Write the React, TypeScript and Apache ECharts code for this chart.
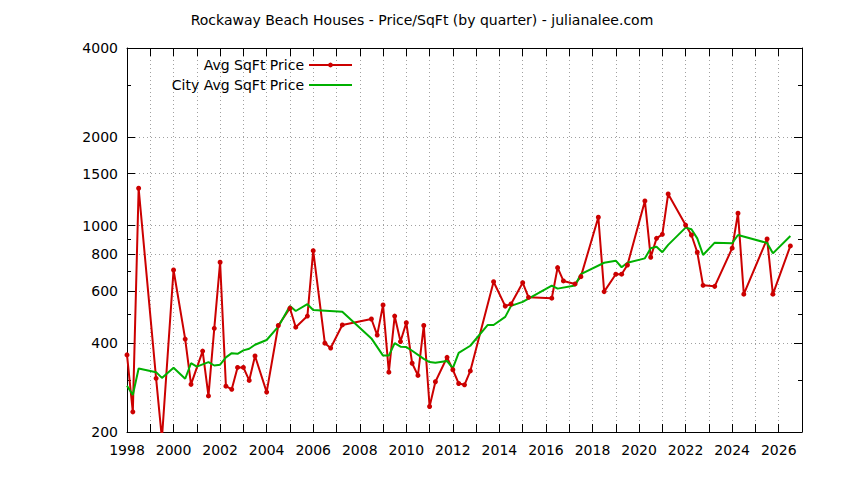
import React, { useEffect, useRef } from "react";
import * as echarts from "echarts";

const chartTitle = "Rockaway Beach Houses - Price/SqFt (by quarter) - julianalee.com";
const avgName = "Avg SqFt Price";
const cityName = "City Avg SqFt Price";

// quarter start dates (decimal years) and $/sqft values
const avgDates = [
  1998.0, 1998.25, 1998.5, 1999.25, 1999.5, 2000.0, 2000.5, 2000.75, 2001.25, 2001.5,
  2001.75, 2002.0, 2002.25, 2002.5, 2002.75, 2003.0, 2003.25, 2003.5, 2004.0, 2004.5,
  2005.0, 2005.25, 2005.75, 2006.0, 2006.5, 2006.75, 2007.25, 2008.5, 2008.75, 2009.0,
  2009.25, 2009.5, 2009.75, 2010.0, 2010.25, 2010.5, 2010.75, 2011.0, 2011.25, 2011.75,
  2012.0, 2012.25, 2012.5, 2012.75, 2013.75, 2014.25, 2014.5, 2015.0, 2015.25, 2016.25,
  2016.5, 2016.75, 2017.25, 2017.5, 2018.25, 2018.5, 2019.0, 2019.25, 2019.5, 2020.25,
  2020.5, 2020.75, 2021.0, 2021.25, 2022.0, 2022.25, 2022.5, 2022.75, 2023.25, 2024.0,
  2024.25, 2024.5, 2025.5, 2025.75, 2026.5,
];
const avgPrices = [
  365, 234, 1339, 304, 190, 708, 413, 290, 376, 265,
  449, 752, 286, 279, 331, 331, 299, 362, 273, 459,
  525, 453, 494, 823, 400, 385, 461, 483, 426, 539,
  319, 494, 405, 469, 342, 311, 459, 244, 296, 358,
  325, 292, 289, 322, 646, 534, 543, 641, 572, 568,
  721, 650, 635, 672, 1068, 598, 685, 685, 736, 1213,
  782, 906, 935, 1281, 1005, 930, 813, 628, 623, 839,
  1102, 586, 902, 586, 854,
];

const cityDates = [
  1998.0, 1998.25, 1998.5, 1999.25, 1999.5, 2000.0, 2000.5, 2000.75, 2001.0, 2001.5,
  2001.75, 2002.0, 2002.25, 2002.5, 2002.75, 2003.0, 2003.25, 2003.5, 2004.0, 2004.5,
  2005.0, 2005.25, 2005.75, 2006.0, 2007.25, 2008.5, 2009.0, 2009.25, 2009.5, 2009.75,
  2010.0, 2010.25, 2010.75, 2011.0, 2011.25, 2011.75, 2012.0, 2012.25, 2012.75, 2013.5,
  2013.75, 2014.25, 2014.5, 2015.0, 2016.25, 2016.5, 2017.25, 2017.5, 2018.5, 2019.0,
  2019.25, 2019.5, 2020.25, 2020.5, 2020.75, 2021.0, 2021.25, 2022.0, 2022.25, 2022.5,
  2022.75, 2023.25, 2024.0, 2024.25, 2025.5, 2025.75, 2026.5,
];
const cityPrices = [
  287, 267, 328, 319, 305, 330, 303, 342, 333, 345,
  336, 338, 358, 370, 368, 378, 383, 395, 410, 455,
  535, 514, 542, 518, 511, 415, 363, 363, 400, 389,
  388, 377, 354, 345, 343, 348, 329, 371, 392, 461,
  461, 491, 535, 552, 627, 612, 627, 685, 749, 761,
  723, 749, 775, 839, 849, 813, 861, 985, 973, 906,
  796, 876, 872, 930, 874, 806, 923,
];

const yearTicks = [
  1998, 1999, 2000, 2001, 2002, 2003, 2004, 2005, 2006, 2007, 2008, 2009, 2010, 2011, 2012,
  2013, 2014, 2015, 2016, 2017, 2018, 2019, 2020, 2021, 2022, 2023, 2024, 2025, 2026, 2027,
];
const yearLabels = [
  1998, 2000, 2002, 2004, 2006, 2008, 2010, 2012, 2014, 2016, 2018, 2020, 2022, 2024, 2026,
];
const priceLabels = [200, 400, 600, 800, 1000, 1500, 2000, 4000];
const priceMinor = [300, 500, 700, 900, 3000];

const FONT = "DejaVu Sans";
const lg = (v: number) => Math.log10(v);

const App: React.FC = () => {
  const chartRef = useRef<HTMLDivElement | null>(null);

  useEffect(() => {
    if (!chartRef.current) return;
    const chart = echarts.init(chartRef.current, null, { renderer: "svg" });

    const grid = { type: [1, 3], color: "#a0a0a0", width: 1 };
    const yBase = { type: "value", min: lg(200), max: lg(4000) };

    const option = {
      animation: false,
      backgroundColor: "#fff",
      textStyle: { fontFamily: FONT },
      title: {
        text: chartTitle,
        left: "center",
        top: 13,
        padding: 0,
        textStyle: { fontFamily: FONT, fontSize: 14, fontWeight: "normal", color: "#000" },
      },
      legend: {
        // the city line has no markers, so its legend symbol is hidden
        data: [avgName, { name: cityName, itemStyle: { opacity: 0 } }],
        orient: "vertical",
        align: "right",
        right: 491,
        top: 58,
        padding: 0,
        itemWidth: 43,
        itemHeight: 6,
        itemGap: 6,
        selectedMode: false,
        textStyle: { fontFamily: FONT, fontSize: 14, color: "#000" },
      },
      grid: { left: 127, right: 42, top: 48, bottom: 48 },
      xAxis: [
        {
          type: "value",
          min: 1998,
          max: 2027,
          position: "bottom",
          axisLine: { onZero: false, lineStyle: { color: "#000", width: 1 } },
          axisTick: { inside: true, length: 8, customValues: yearTicks, lineStyle: { color: "#000" } },
          axisLabel: {
            customValues: yearLabels,
            formatter: (v: number) => String(v),
            margin: 11,
            fontSize: 14,
            color: "#000",
            fontFamily: FONT,
          },
          splitLine: { show: true, showMinLine: false, showMaxLine: false, lineStyle: grid },
        },
        {
          type: "value",
          min: 1998,
          max: 2027,
          position: "top",
          axisLine: { onZero: false, lineStyle: { color: "#000", width: 1 } },
          axisTick: { inside: true, length: 8, customValues: yearTicks, lineStyle: { color: "#000" } },
          axisLabel: { show: false },
          splitLine: { show: false },
        },
      ],
      yAxis: [
        {
          ...yBase,
          position: "left",
          axisLine: { show: true, onZero: false, lineStyle: { color: "#000", width: 1 } },
          axisTick: { inside: true, length: 8, customValues: priceLabels.map(lg), lineStyle: { color: "#000" } },
          axisLabel: {
            customValues: priceLabels.map(lg),
            formatter: (v: number) => String(Math.round(Math.pow(10, v))),
            margin: 9,
            fontSize: 14,
            color: "#000",
            fontFamily: FONT,
          },
          splitLine: { show: true, showMinLine: false, showMaxLine: false, lineStyle: grid },
        },
        {
          ...yBase,
          position: "left",
          axisLine: { show: false },
          axisTick: { inside: true, length: 4, customValues: priceMinor.map(lg), lineStyle: { color: "#000" } },
          axisLabel: { show: false },
          splitLine: { show: false },
        },
        {
          ...yBase,
          position: "right",
          axisLine: { show: true, onZero: false, lineStyle: { color: "#000", width: 1 } },
          axisTick: { inside: true, length: 8, customValues: priceLabels.map(lg), lineStyle: { color: "#000" } },
          axisLabel: { show: false },
          splitLine: { show: false },
        },
        {
          ...yBase,
          position: "right",
          axisLine: { show: false },
          axisTick: { inside: true, length: 4, customValues: priceMinor.map(lg), lineStyle: { color: "#000" } },
          axisLabel: { show: false },
          splitLine: { show: false },
        },
      ],
      series: [
        {
          name: avgName,
          type: "line",
          xAxisIndex: 0,
          yAxisIndex: 0,
          data: avgDates.map((d, i) => [d, lg(avgPrices[i])]),
          symbol: "circle",
          symbolSize: 5,
          showSymbol: true,
          color: "#cc0000",
          lineStyle: { color: "#cc0000", width: 2 },
          itemStyle: { color: "#cc0000" },
          clip: true,
        },
        {
          name: cityName,
          type: "line",
          xAxisIndex: 0,
          yAxisIndex: 0,
          data: cityDates.map((d, i) => [d, lg(cityPrices[i])]),
          symbol: "none",
          color: "#00b000",
          lineStyle: { color: "#00b000", width: 2 },
          clip: true,
        },
      ],
    };

    chart.setOption(option as any);

    return () => {
      chart.dispose();
    };
  }, []);

  return (
    <div
      ref={chartRef}
      style={{ position: "fixed", left: 0, top: 0, width: "844px", height: "480px", background: "#fff" }}
    />
  );
};

export default App;
